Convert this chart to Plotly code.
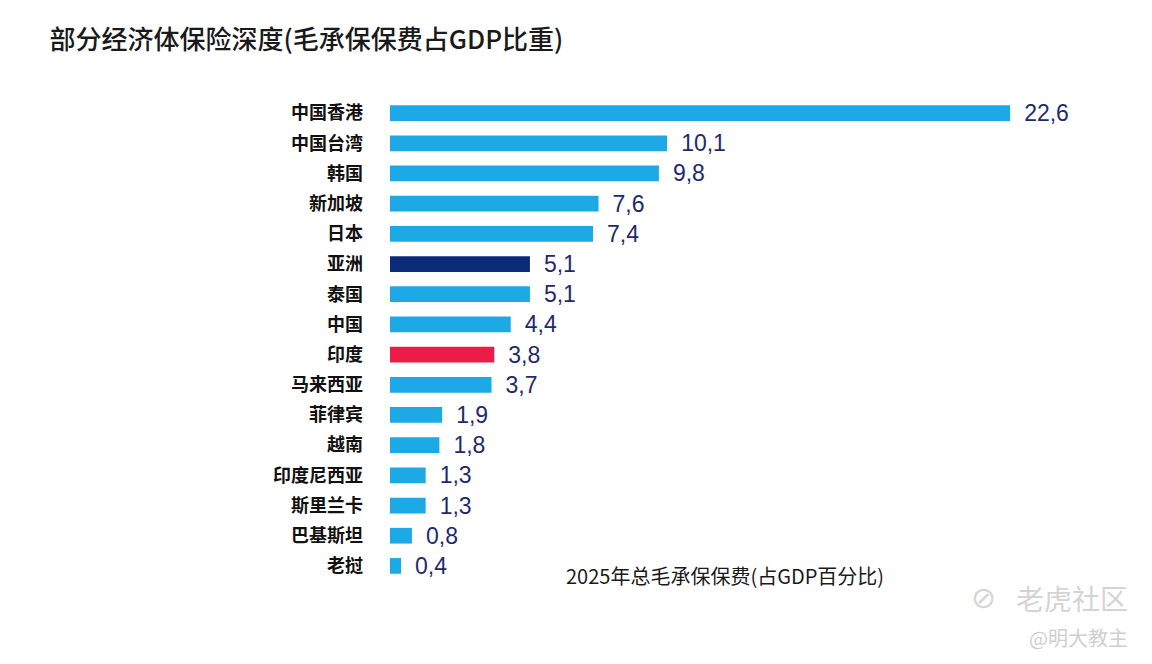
import plotly.graph_objects as go

# 数据 (保险深度, 2025年总毛承保保费占GDP百分比)
economies = ["中国香港", "中国台湾", "韩国", "新加坡", "日本", "亚洲", "泰国", "中国",
             "印度", "马来西亚", "菲律宾", "越南", "印度尼西亚", "斯里兰卡", "巴基斯坦", "老挝"]
depth = [22.6, 10.1, 9.8, 7.6, 7.4, 5.1, 5.1, 4.4, 3.8, 3.7, 1.9, 1.8, 1.3, 1.3, 0.8, 0.4]

blue = "#1DA9E6"
colors = [blue] * len(economies)
colors[economies.index("亚洲")] = "#0B2A78"
colors[economies.index("印度")] = "#EC1C48"

cjk = "Noto Sans CJK SC"

fig = go.Figure(go.Bar(
    x=depth,
    y=economies,
    orientation="h",
    marker=dict(color=colors, line=dict(width=0)),
    texttemplate="\u00a0\u2009%{x:.1f}",
    textposition="outside",
    constraintext="none",
    textfont=dict(family="Liberation Sans", size=23, color="#1E2A6E"),
    cliponaxis=False,
))

fig.update_layout(
    width=1152, height=664,
    separators=",.",
    paper_bgcolor="white",
    plot_bgcolor="white",
    margin=dict(l=382, r=84, t=90, b=91),
    bargap=0.48,
    showlegend=False,
    title=dict(text="部分经济体保险深度(毛承保保费占GDP比重)", x=0.036, xanchor="left",
               y=0.952, yanchor="middle",
               font=dict(family=cjk, size=26, color="#1A1A1A", weight=500)),
    xaxis=dict(range=[0, 25], visible=False, fixedrange=True),
    yaxis=dict(autorange="reversed", showgrid=False, zeroline=False, showline=False,
               ticks="", ticklabelstandoff=26,
               tickfont=dict(family=cjk, size=18, color="#111111", weight="bold")),
)

fig.add_annotation(text="2025年总毛承保保费(占GDP百分比)", xref="paper", yref="paper",
                   x=0.488, y=0.0104, xanchor="center", yanchor="middle",
                   showarrow=False, font=dict(family=cjk, size=20, color="#1A1A1A"))

# 水印
fig.add_annotation(text="⊘", xref="paper", yref="paper", x=0.886, y=-0.035,
                   xanchor="right", yanchor="middle", showarrow=False,
                   font=dict(family="DejaVu Sans", size=30, color="#D6D6D6"))
fig.add_annotation(text="老虎社区", xref="paper", yref="paper", x=1.0787, y=-0.035,
                   xanchor="right", yanchor="middle", showarrow=False,
                   font=dict(family=cjk, size=28, color="#D4D4D4"))
fig.add_annotation(text="@明大教主", xref="paper", yref="paper", x=1.0787, y=-0.118,
                   xanchor="right", yanchor="middle", showarrow=False,
                   font=dict(family=cjk, size=20, color="#CFCFCF"))

fig.write_html("out.html")
